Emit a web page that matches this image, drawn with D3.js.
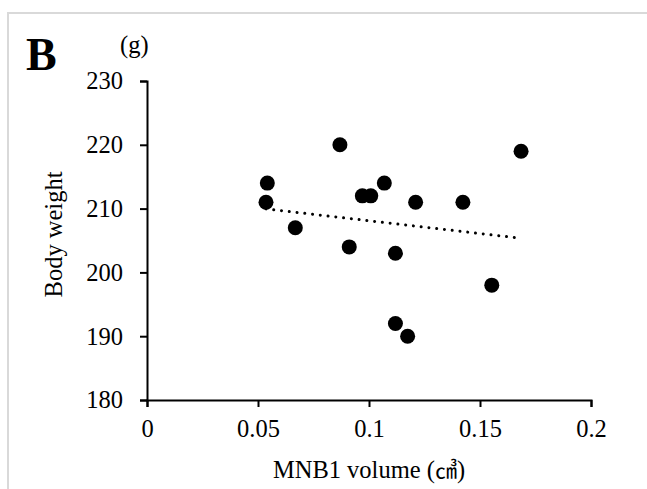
<!DOCTYPE html>
<html>
<head>
<meta charset="utf-8">
<script src="https://cdn.jsdelivr.net/npm/d3@7"></script>
<style>
  html, body { margin: 0; padding: 0; background: #fff; }
  svg { display: block; }
  text { font-family: "Liberation Serif", "Times New Roman", serif; fill: #000; }
</style>
</head>
<body>
<svg id="chart" width="647" height="489"></svg>
<script>
// ---- data ----
const volumes = [0.0869, 0.1685, 0.0542, 0.0536, 0.0970, 0.1008, 0.1069, 0.1210, 0.1423, 0.0668, 0.0911, 0.1119, 0.1553, 0.1119, 0.1174];
const weights = [220, 219, 214, 211, 212, 212, 214, 211, 211, 207, 204, 203, 198, 192, 190];
const xTicks = [0, 0.05, 0.1, 0.15, 0.2];
const yTicks = [180, 190, 200, 210, 220, 230];
const xTickLabels = ["0", "0.05", "0.1", "0.15", "0.2"];
const yTickLabels = ["180", "190", "200", "210", "220", "230"];
const panelLabel = "B";
const unitLabel = "(g)";
const xTitleParts = ["MNB1 volume (", "\u33A4", ")"];
const yTitle = "Body weight";

// ---- layout ----
const svg = d3.select("#chart");
const pLeft = 147, pRight = 591, pTop = 81, pBottom = 400;

const x = d3.scaleLinear().domain([0, 0.2]).range([pLeft, pRight]);
const y = d3.scaleLinear().domain([180, 230]).range([pBottom, pTop]);

// outer frame (only top & left visible)
svg.append("rect")
  .attr("x", 8).attr("y", 13)
  .attr("width", 700).attr("height", 600)
  .attr("fill", "none")
  .attr("stroke", "#d9d9d9")
  .attr("stroke-width", 2);

const fs = 24.5;

// x axis
const xAxis = d3.axisBottom(x)
  .tickValues(xTicks)
  .tickFormat((d, i) => xTickLabels[i])
  .tickSizeOuter(0)
  .tickSize(7)
  .tickPadding(13);
const gx = svg.append("g").attr("transform", `translate(0,${pBottom})`).call(xAxis);
gx.select(".domain").attr("stroke", "#000").attr("stroke-width", 2);
gx.selectAll(".tick line").attr("stroke", "#000").attr("stroke-width", 2);
gx.selectAll(".tick text")
  .attr("font-family", "Liberation Serif, Times New Roman, serif")
  .attr("font-size", fs).attr("fill", "#000");

// y axis
const yAxis = d3.axisLeft(y)
  .tickValues(yTicks)
  .tickFormat((d, i) => yTickLabels[i])
  .tickSizeOuter(0)
  .tickSize(7)
  .tickPadding(17);
const gy = svg.append("g").attr("transform", `translate(${pLeft},0)`).call(yAxis);
gy.select(".domain").attr("stroke", "#000").attr("stroke-width", 2);
gy.selectAll(".tick line").attr("stroke", "#000").attr("stroke-width", 2);
gy.selectAll(".tick text")
  .attr("font-family", "Liberation Serif, Times New Roman, serif")
  .attr("font-size", fs).attr("fill", "#000");

// linear trend line (least squares computed from the data)
const n = volumes.length;
const mx = d3.mean(volumes), my = d3.mean(weights);
let sxy = 0, sxx = 0;
for (let i = 0; i < n; i++) { sxy += (volumes[i] - mx) * (weights[i] - my); sxx += (volumes[i] - mx) ** 2; }
const slope = sxy / sxx, intercept = my - slope * mx;
const [xmin, xmax] = d3.extent(volumes);
svg.append("line")
  .attr("x1", x(xmin)).attr("y1", y(intercept + slope * xmin))
  .attr("x2", x(xmax)).attr("y2", y(intercept + slope * xmax))
  .attr("stroke", "#000")
  .attr("stroke-width", 3)
  .attr("stroke-linecap", "round")
  .attr("stroke-dasharray", "0.01 7.8");

// points
svg.append("g").selectAll("circle")
  .data(volumes.map((v, i) => ({ v, w: weights[i] })))
  .join("circle")
  .attr("cx", d => x(d.v))
  .attr("cy", d => y(d.w))
  .attr("r", 7.5)
  .attr("fill", "#000");

// titles
const xt = svg.append("text")
  .attr("x", (pLeft + pRight) / 2).attr("y", 478)
  .attr("text-anchor", "middle")
  .attr("font-size", fs);
xt.append("tspan").text(xTitleParts[0]);
xt.append("tspan").attr("font-family", "Noto Sans CJK JP").attr("font-size", 22).text(xTitleParts[1]);
xt.append("tspan").text(xTitleParts[2]);

svg.append("text")
  .attr("transform", `translate(62,${(pTop + pBottom) / 2 - 6}) rotate(-90)`)
  .attr("text-anchor", "middle")
  .attr("font-size", fs)
  .text(yTitle);

svg.append("text")
  .attr("x", 120).attr("y", 53)
  .attr("font-size", fs)
  .text(unitLabel);

svg.append("text")
  .attr("x", 26).attr("y", 70)
  .attr("font-size", 46)
  .attr("font-weight", "bold")
  .text(panelLabel);
</script>
</body>
</html>
